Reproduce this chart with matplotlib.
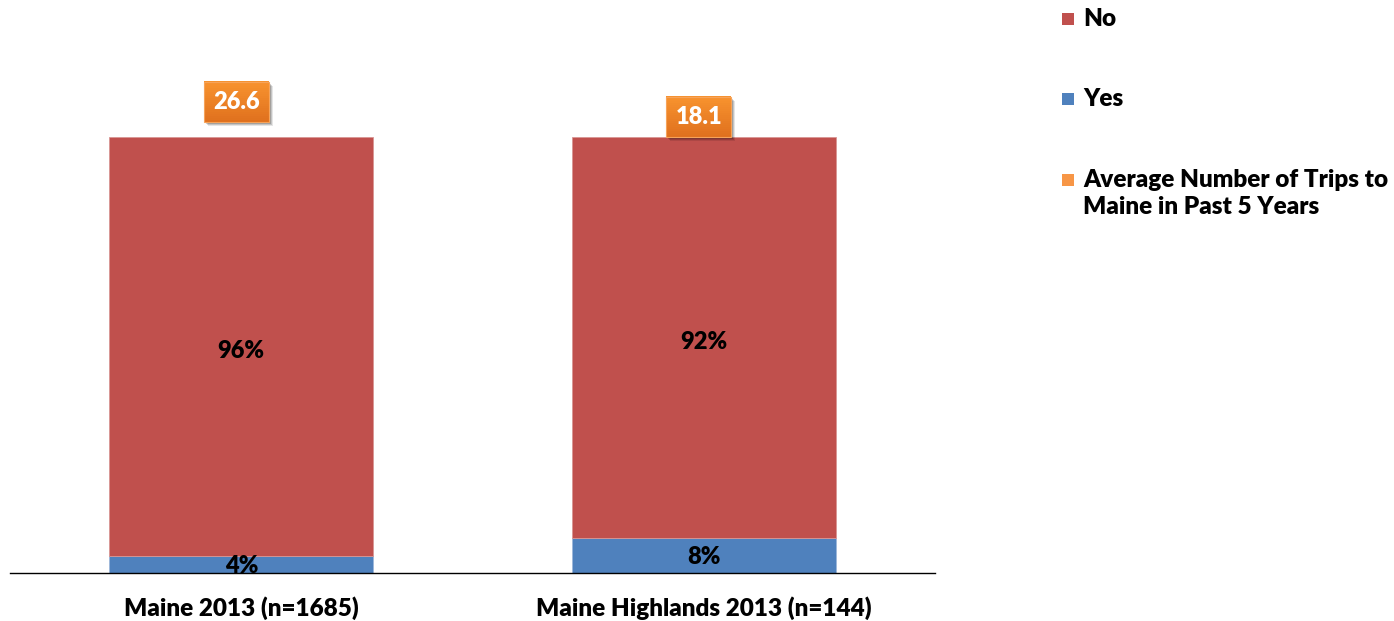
import matplotlib
matplotlib.use("Agg")
import matplotlib.pyplot as plt
from matplotlib.patches import Rectangle
from matplotlib.transforms import IdentityTransform
import matplotlib.colors as mcolors
import numpy as np

categories = ["Maine 2013 (n=1685)", "Maine Highlands 2013 (n=144)"]
yes_pct = [4, 8]
no_pct = [96, 92]
avg_trips = [26.6, 18.1]

legend_labels = ["No", "Yes", "Average Number of Trips to\nMaine in Past 5 Years"]

RED = "#C0504D"
BLUE = "#4F81BD"
ORANGE = "#F79646"
BOX_TOP = "#F7922E"
BOX_BOTTOM = "#E0711E"

plt.rcParams["font.family"] = ["Lato", "DejaVu Sans"]
WEIGHT = "heavy"

W, H = 1394, 621
fig = plt.figure(figsize=(W / 100, H / 100), dpi=100)

ax_l, ax_r, ax_b, ax_t = 10, 935, 573, 137
ax = fig.add_axes([ax_l / W, (H - ax_b) / H, (ax_r - ax_l) / W, (ax_b - ax_t) / H])
x = np.arange(len(categories))
width = 0.571
yes_frac = np.array(yes_pct) / 100
no_frac = np.array(no_pct) / 100
ax.bar(x, yes_frac, width, color=BLUE, edgecolor="#9DB7DA", linewidth=0.6, zorder=2)
ax.bar(x, no_frac, width, bottom=yes_frac, color=RED, edgecolor="#D99694", linewidth=0.6, zorder=2)
ax.set_xlim(-0.5, 1.5)
ax.set_ylim(0, 1)

for xi, y, n in zip(x, yes_frac, no_frac):
    ax.text(xi, y / 2 - 0.004, f"{round(y*100)}%", ha="center", va="center",
            fontsize=17, fontweight=WEIGHT, color="black", zorder=4, clip_on=False)
    ax.text(xi, y + n / 2 - 0.01, f"{round(n*100)}%", ha="center", va="center",
            fontsize=17, fontweight=WEIGHT, color="black", zorder=4)

for s in ["top", "right", "left"]:
    ax.spines[s].set_visible(False)
ax.spines["bottom"].set_color("black")
ax.spines["bottom"].set_linewidth(1.0)
ax.set_yticks([])
ax.set_xticks(x)
ax.set_xticklabels(categories, fontsize=17.5, fontweight=WEIGHT)
ax.tick_params(axis="x", length=0, pad=17)

# secondary axis for the trip averages (hidden)
ax2 = ax.twinx()
ax2.set_ylim(-240.3, 6.7)
ax2.axis("off")

box_w, box_h = 65, 40
top_rgb = np.array(mcolors.to_rgb(BOX_TOP))
bot_rgb = np.array(mcolors.to_rgb(BOX_BOTTOM))
n_strips = 20
for xi, v in zip(x, avg_trips):
    cx, cy = ax2.transData.transform((xi, v))
    cx -= 5
    x0, y0 = cx - box_w / 2, cy - box_h / 2
    # soft drop shadow
    for k, a in enumerate([0.10, 0.14, 0.18]):
        off = 4 - k
        fig.patches.append(Rectangle((x0 + off, y0 - off), box_w, box_h,
                                     transform=IdentityTransform(), facecolor="black",
                                     edgecolor="none", alpha=a, zorder=5))
    # vertical gradient fill
    for i in range(n_strips):
        t = i / (n_strips - 1)
        col = bot_rgb * (1 - t) + top_rgb * t
        fig.patches.append(Rectangle((x0, y0 + i * box_h / n_strips), box_w,
                                     box_h / n_strips + 0.5,
                                     transform=IdentityTransform(), facecolor=col,
                                     edgecolor="none", zorder=6))
    fig.patches.append(Rectangle((x0, y0), box_w, box_h, transform=IdentityTransform(),
                                 facecolor="none", edgecolor="#F6A35A", linewidth=0.8,
                                 zorder=7))
    fig.text(cx / W, cy / H, f"{v}", ha="center", va="center", fontsize=17,
             fontweight=WEIGHT, color="white", zorder=8)

# legend
leg = [(RED, 19), (BLUE, 99), (ORANGE, 180)]
for (c, ypx), lab in zip(leg, legend_labels):
    fig.patches.append(Rectangle((1062 / W, 1 - (ypx + 6) / H), 12 / W, 12 / H,
                                 transform=fig.transFigure, facecolor=c, edgecolor="none"))
    fig.text(1083 / W, 1 - (ypx - 11) / H, lab, ha="left", va="top", fontsize=17.5,
             fontweight=WEIGHT, linespacing=1.3)

fig.savefig("out.png", dpi=100)
